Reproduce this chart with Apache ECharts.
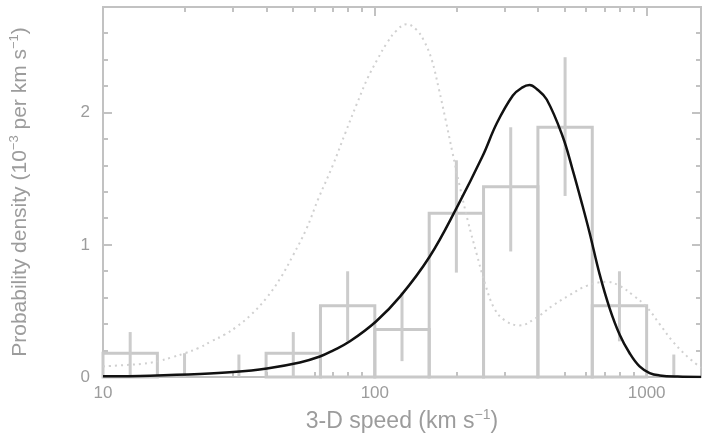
<!DOCTYPE html>
<html>
<head>
<meta charset="utf-8">
<script src="https://cdn.jsdelivr.net/npm/echarts@6/dist/echarts.min.js"></script>
<style>
html,body{margin:0;padding:0;background:#ffffff;}
#chart{width:708px;height:438px;}
</style>
</head>
<body>
<div id="chart"></div>
<script>
// ---- Data ----
// Histogram bins (km/s), 0.2 dex wide
const binEdges = [10, 15.85, 25.12, 39.81, 63.10, 100, 158.5, 251.2, 398.1, 631.0, 1000, 1584.9];
const binHeights = [0.18, 0, 0, 0.18, 0.54, 0.36, 1.24, 1.44, 1.89, 0.54, 0];
const errLow  = [0.00, 0, 0, 0.00, 0.27, 0.12, 0.79, 0.95, 1.37, 0.27, 0];
const errHigh = [0.34, 0.18, 0.17, 0.34, 0.80, 0.64, 1.64, 1.89, 2.42, 0.80, 0.17];

// Black model curve
const modelSpeed = [10, 14.9, 22.7, 30.1, 40.1, 53.0, 62.8, 70.1, 81.0, 101, 124, 159, 200, 249, 281, 322, 348, 371, 394, 429, 491, 534, 582, 617, 671, 731, 796, 866, 942, 1026, 1117, 1300, 1584.9];
const modelDensity = [0.005, 0.01, 0.022, 0.037, 0.065, 0.11, 0.155, 0.20, 0.27, 0.42, 0.61, 0.91, 1.28, 1.67, 1.92, 2.13, 2.19, 2.21, 2.18, 2.10, 1.82, 1.57, 1.29, 1.09, 0.78, 0.52, 0.32, 0.18, 0.08, 0.03, 0.012, 0.003, 0.0];

// Grey dotted curve
const dotSpeed = [10, 12, 14, 16, 18, 20, 22.5, 25, 28, 31, 35, 40, 45, 50, 56, 62, 70, 78, 86, 94, 102, 111, 120, 131, 142, 152, 162, 172, 182, 193, 205, 220, 237, 255, 275, 300, 340, 394, 451, 521, 602, 713, 796, 889, 1000, 1117, 1247, 1403, 1584.9];
const dotDensity = [0.08, 0.09, 0.10, 0.12, 0.15, 0.18, 0.22, 0.27, 0.32, 0.38, 0.47, 0.60, 0.75, 0.92, 1.12, 1.35, 1.60, 1.85, 2.07, 2.26, 2.40, 2.53, 2.62, 2.67, 2.63, 2.54, 2.40, 2.18, 1.95, 1.70, 1.45, 1.18, 0.93, 0.70, 0.52, 0.43, 0.39, 0.45, 0.54, 0.62, 0.69, 0.72, 0.69, 0.62, 0.53, 0.40, 0.27, 0.16, 0.07];

// Axis ticks
const xMajorTicks = [10, 100, 1000];
const xMinorTicks = [20, 30, 40, 50, 60, 70, 80, 90, 200, 300, 400, 500, 600, 700, 800, 900];
const yMajorTicks = [0, 1, 2];
const yMinorTicks = [0.2, 0.4, 0.6, 0.8, 1.2, 1.4, 1.6, 1.8, 2.2, 2.4, 2.6];

const xMin = 10, xMax = 1584.9, yMin = 0, yMax = 2.8;

// ---- Build ----
const frameColor = '#c2c2c2';
const textColor = '#9c9c9c';
const fontFamily = '"Liberation Sans", Arial, sans-serif';

const histData = binHeights.map((h, i) => [binEdges[i], binEdges[i + 1], h]);
const errData = errHigh.map((hi, i) => [Math.sqrt(binEdges[i] * binEdges[i + 1]), errLow[i], hi]);
const tickData = []
  .concat(xMajorTicks.map(v => [v, 1, 0]))
  .concat(xMinorTicks.map(v => [v, 1, 1]))
  .concat(yMajorTicks.map(v => [20, v, 2]))
  .concat(yMinorTicks.map(v => [20, v, 3]));

const chart = echarts.init(document.getElementById('chart'), null, { renderer: 'canvas' });

const option = {
  animation: false,
  backgroundColor: '#ffffff',
  grid: {
    left: 103, right: 7, top: 7, bottom: 60,
    show: true, borderColor: frameColor, borderWidth: 2, backgroundColor: 'transparent'
  },
  xAxis: {
    type: 'log', logBase: 10, min: xMin, max: xMax,
    axisLine: { show: false }, axisTick: { show: false }, splitLine: { show: false }, minorTick: { show: false },
    axisLabel: {
      color: textColor, fontSize: 17, fontFamily: fontFamily, margin: 8, showMinLabel: true, showMaxLabel: false,
      formatter: function (v) { return String(Math.round(v)); }
    },
    name: '{a|3-D speed (km s}{s|−1}{a|)}',
    nameLocation: 'middle', nameGap: 31,
    nameTextStyle: {
      rich: {
        a: { color: textColor, fontSize: 23, fontFamily: fontFamily, lineHeight: 27 },
        s: { color: textColor, fontSize: 14, fontFamily: fontFamily, lineHeight: 27, verticalAlign: 'top' }
      }
    }
  },
  yAxis: {
    type: 'value', min: yMin, max: yMax, interval: 1,
    axisLine: { show: false }, axisTick: { show: false }, splitLine: { show: false },
    axisLabel: { color: textColor, fontSize: 17, fontFamily: fontFamily, margin: 13, showMinLabel: true, showMaxLabel: false },
    name: '{a|Probability density (10}{s|−3}{a| per km s}{s|−1}{a|)}',
    nameLocation: 'middle', nameGap: 70, nameRotate: 90,
    nameTextStyle: {
      rich: {
        a: { color: textColor, fontSize: 21, fontFamily: fontFamily, lineHeight: 25 },
        s: { color: textColor, fontSize: 13, fontFamily: fontFamily, lineHeight: 25, verticalAlign: 'top' }
      }
    }
  },
  series: [
    {
      type: 'custom', name: 'ticks', silent: true, z: 1,
      data: tickData,
      encode: { x: 0, y: 1 },
      renderItem: function (params, api) {
        const cs = params.coordSys;
        const kind = api.value(2);
        const st = { stroke: frameColor, lineWidth: 2 };
        if (kind === 0 || kind === 1) {
          const len = kind === 0 ? 9 : 5;
          const x = Math.round(api.coord([api.value(0), 1])[0]);
          return { type: 'group', children: [
            { type: 'line', shape: { x1: x, y1: cs.y + cs.height, x2: x, y2: cs.y + cs.height - len }, style: st },
            { type: 'line', shape: { x1: x, y1: cs.y, x2: x, y2: cs.y + len }, style: st }
          ] };
        } else {
          const len = kind === 2 ? 9 : 5;
          const y = Math.round(api.coord([20, api.value(1)])[1]);
          return { type: 'group', children: [
            { type: 'line', shape: { x1: cs.x, y1: y, x2: cs.x + len, y2: y }, style: st },
            { type: 'line', shape: { x1: cs.x + cs.width, y1: y, x2: cs.x + cs.width - len, y2: y }, style: st }
          ] };
        }
      }
    },
    {
      type: 'custom', name: 'histogram', silent: true, z: 2,
      data: histData,
      encode: { x: [0, 1], y: 2 },
      renderItem: function (params, api) {
        const h = api.value(2);
        if (!(h > 0)) return null;
        const p0 = api.coord([api.value(0), 0]);
        const p1 = api.coord([api.value(1), h]);
        return {
          type: 'rect',
          shape: { x: p0[0], y: p1[1], width: p1[0] - p0[0], height: p0[1] - p1[1] },
          style: { fill: 'none', stroke: '#c9c9c9', lineWidth: 3 }
        };
      }
    },
    {
      type: 'custom', name: 'errors', silent: true, z: 3,
      data: errData,
      encode: { x: 0, y: [1, 2] },
      renderItem: function (params, api) {
        const a = api.coord([api.value(0), api.value(1)]);
        const b = api.coord([api.value(0), api.value(2)]);
        return {
          type: 'line',
          shape: { x1: a[0], y1: a[1], x2: b[0], y2: b[1] },
          style: { stroke: '#cccccc', lineWidth: 3 }
        };
      }
    },
    {
      type: 'line', name: 'dotted', silent: true, z: 4,
      data: dotSpeed.map((v, i) => [v, dotDensity[i]]),
      smooth: 0.4, showSymbol: false, symbol: 'none',
      lineStyle: { color: '#d0d0d0', width: 2, type: [2, 4] }
    },
    {
      type: 'line', name: 'model', silent: true, z: 5,
      data: modelSpeed.map((v, i) => [v, modelDensity[i]]),
      smooth: 0.4, showSymbol: false, symbol: 'none',
      lineStyle: { color: '#111111', width: 2.5 }
    }
  ]
};

chart.setOption(option);
</script>
</body>
</html>
